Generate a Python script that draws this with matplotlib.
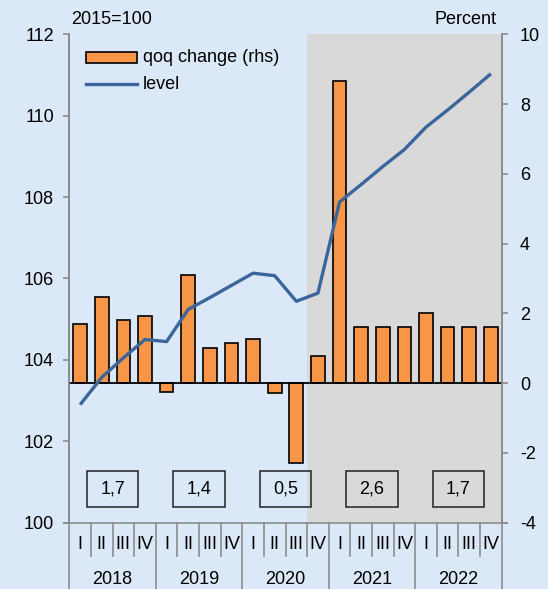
import matplotlib
matplotlib.use('Agg')
import matplotlib.pyplot as plt
from matplotlib.patches import Rectangle
from matplotlib.lines import Line2D
import matplotlib.transforms as mtransforms

plt.rcParams['font.family'] = ['Liberation Sans', 'DejaVu Sans']
plt.rcParams['axes.unicode_minus'] = False

years = ['2018', '2019', '2020', '2021', '2022']
quarters = ['I', 'II', 'III', 'IV']
qoq = [1.70, 2.46, 1.81, 1.93, -0.26, 3.09, 1.02, 1.14, 1.26, -0.29,
       -2.29, 0.79, 8.65, 1.60, 1.60, 1.60, 2.00, 1.60, 1.60, 1.60]
level = [102.90, 103.57, 104.05, 104.50, 104.45, 105.24, 105.53, 105.83, 106.13, 106.07,
         105.44, 105.64, 107.88, 108.31, 108.75, 109.17, 109.72, 110.14, 110.58, 111.03]
annual = ['1,7', '1,4', '0,5', '2,6', '1,7']
forecast_start = 11

BG = '#dbe8f7'
GRAY = '#d9d9d9'
ORANGE = '#f79646'
BLUE = '#3b669b'
AXC = '#8c8c8c'
FS = 13

fig = plt.figure(figsize=(5.48, 5.89), dpi=100, facecolor=BG)
ax = fig.add_axes([69.3 / 548, 1 - 522.7 / 589, 432.4 / 548, 488.4 / 589])
ax.set_facecolor(BG)
n = len(qoq)
x = list(range(n))
ax.set_xlim(-0.5, n - 0.5)
ax.set_ylim(-4, 10)
ax.axvspan(forecast_start - 0.5, n - 0.5, color=GRAY, zorder=0, lw=0)
ax.bar(x, qoq, width=0.63, color=ORANGE, edgecolor='black', linewidth=1.2, zorder=2)
ax.axhline(0, color='black', lw=1.3, zorder=3)

ax2 = ax.twinx()
ax2.set_ylim(100, 112)
ax2.plot(x, level, color=BLUE, lw=2.4, zorder=5, solid_capstyle='butt')

ax.yaxis.tick_right()
ax2.yaxis.tick_left()
ax.set_yticks(range(-4, 11, 2))
ax2.set_yticks(range(100, 113, 2))

for a in (ax, ax2):
    for s in ('top', 'bottom'):
        a.spines[s].set_visible(False)
    for s in ('left', 'right'):
        a.spines[s].set_color(AXC)
        a.spines[s].set_linewidth(1.2)
    a.tick_params(axis='x', bottom=False, labelbottom=False)
    a.tick_params(axis='y', direction='out', length=4, width=1.2, color=AXC,
                  labelsize=FS, labelcolor='black')
ax.tick_params(axis='y', pad=9)
ax2.tick_params(axis='y', pad=7)

# annual boxes
for k, txt in enumerate(annual):
    cx = 4 * k + 1.5
    ax.add_patch(Rectangle((cx - 1.195, -3.55), 2.39, 1.02, fill=False,
                           edgecolor='#222222', lw=1.1, zorder=4))
    ax.text(cx, -3.04, txt, ha='center', va='center', fontsize=FS, zorder=4)

# category axis
tr = mtransforms.blended_transform_factory(ax.transData, ax.transAxes)
ax.add_line(Line2D([-0.75, n - 0.25], [0, 0], transform=tr, color=AXC, lw=1.2, clip_on=False))
for k in range(n + 1):
    bottom = -0.14 if k % 4 == 0 else -0.068
    ax.add_line(Line2D([k - 0.5, k - 0.5], [0, bottom], transform=tr, color=AXC,
                       lw=1.2, clip_on=False))
for i in range(n):
    ax.text(i, -0.044, quarters[i % 4], transform=tr, ha='center', va='center',
            fontsize=FS, clip_on=False)
for k, yname in enumerate(years):
    ax.text(4 * k + 1.5, -0.116, yname, transform=tr, ha='center', va='center',
            fontsize=FS, clip_on=False)

# legend
ax2.add_patch(Rectangle((0.0386, 0.941), 0.118, 0.022, transform=ax2.transAxes,
                        facecolor=ORANGE, edgecolor='black', lw=1.2, zorder=6))
ax2.text(0.1707, 0.952, 'qoq change (rhs)', transform=ax2.transAxes, ha='left',
         va='center', fontsize=FS, zorder=6)
ax2.add_line(Line2D([0.0386, 0.1566], [0.898, 0.898], transform=ax2.transAxes,
                    color=BLUE, lw=2.4, zorder=6))
ax2.text(0.1707, 0.898, 'level', transform=ax2.transAxes, ha='left',
         va='center', fontsize=FS, zorder=6)

fig.text(71 / 548, 1 - 19 / 589, '2015=100', ha='left', va='center', fontsize=FS)
fig.text(496.5 / 548, 1 - 19 / 589, 'Percent', ha='right', va='center', fontsize=FS)

fig.savefig('out.png', dpi=100, facecolor=BG)
